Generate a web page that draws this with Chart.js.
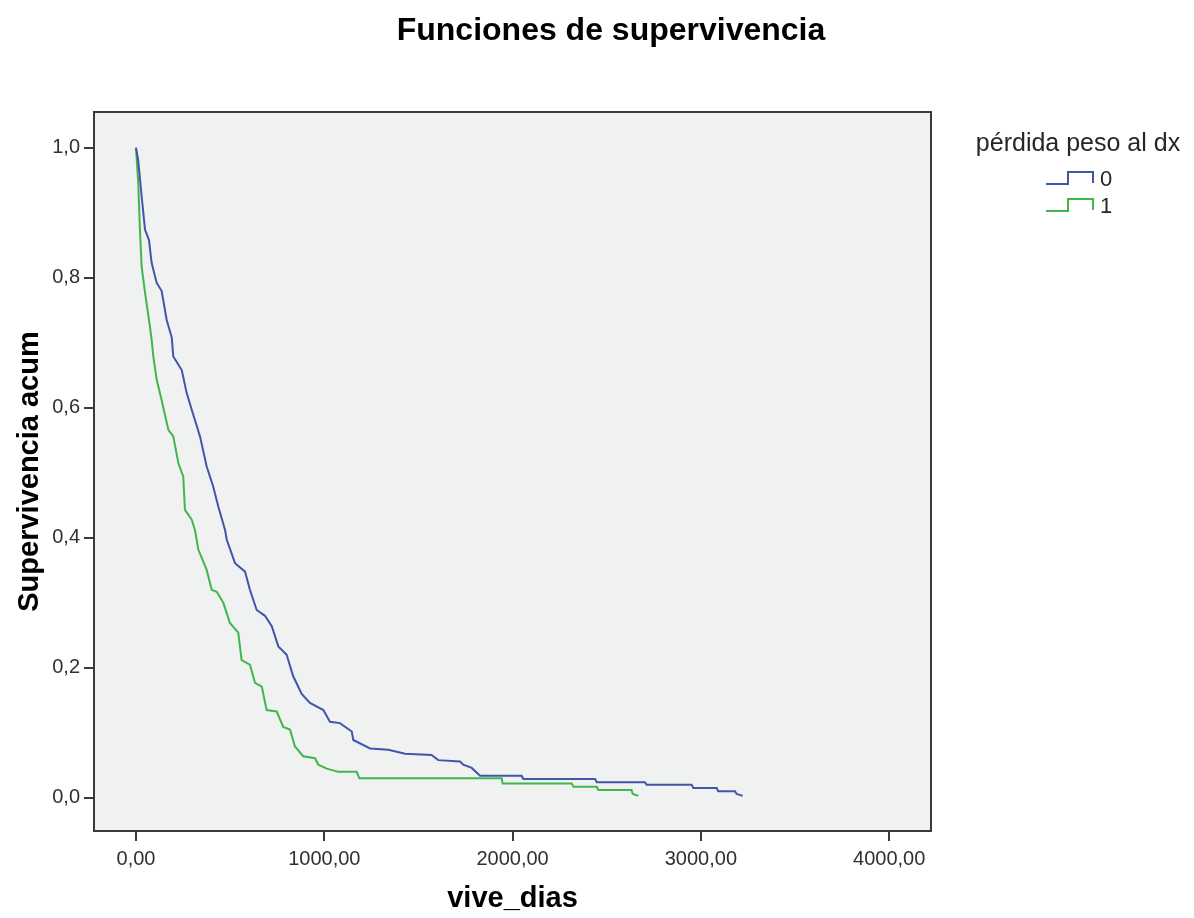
<!DOCTYPE html>
<html>
<head>
<meta charset="utf-8">
<script src="https://cdn.jsdelivr.net/npm/chart.js@4.4.1/dist/chart.umd.min.js"></script>
<style>
  html, body { margin: 0; padding: 0; background: #ffffff; }
  #wrap { width: 1194px; height: 918px; }
</style>
</head>
<body>
<div id="wrap"><canvas id="c" width="1194" height="918"></canvas></div>
<script>
// ---- Data ----
const chartTitle = "Funciones de supervivencia";
const xAxisTitle = "vive_dias";
const yAxisTitle = "Supervivencia acum";
const legendTitle = "pérdida peso al dx";
const seriesNames = ["0", "1"];
const xTicks = [0, 1000, 2000, 3000, 4000];
const yTicks = [0, 0.2, 0.4, 0.6, 0.8, 1.0];

// group 0 (blue): vertices of the survival curve (days, cumulative survival)
const timesGroup0 = [0, 12, 30, 48, 69, 83, 110, 136, 163, 190, 198, 243, 269, 296, 340, 375, 410, 437, 473, 482,
  526, 579, 605, 641, 685, 721, 756, 800, 835, 880, 924, 995, 1030, 1083, 1146, 1154, 1243, 1340, 1429, 1570,
  1605, 1721, 1738, 1783, 1827, 2048, 2057, 2438, 2447, 2703, 2712, 2951, 2960, 3084, 3092, 3181, 3190, 3222];
const survGroup0 = [1.0, 0.98, 0.925, 0.874, 0.858, 0.823, 0.792, 0.78, 0.735, 0.708, 0.679, 0.658, 0.623, 0.597, 0.556, 0.51, 0.479, 0.448, 0.412, 0.397,
  0.361, 0.348, 0.32, 0.289, 0.28, 0.264, 0.233, 0.22, 0.187, 0.16, 0.146, 0.135, 0.117, 0.115, 0.102, 0.089, 0.076, 0.074, 0.068, 0.066,
  0.058, 0.056, 0.051, 0.046, 0.034, 0.034, 0.029, 0.029, 0.024, 0.024, 0.02, 0.02, 0.015, 0.015, 0.01, 0.01, 0.006, 0.003];

// group 1 (green)
const timesGroup1 = [0, 12, 21, 30, 48, 74, 83, 92, 110, 136, 172, 198, 225, 251, 260, 296, 313, 331, 375, 402,
  429, 464, 499, 543, 561, 605, 632, 668, 694, 747, 782, 818, 844, 888, 951, 968, 1013, 1074, 1172, 1186,
  1942, 1947, 2314, 2323, 2447, 2455, 2632, 2638, 2668];
const survGroup1 = [1.0, 0.946, 0.874, 0.817, 0.777, 0.725, 0.705, 0.679, 0.643, 0.612, 0.566, 0.556, 0.515, 0.494, 0.443, 0.428, 0.412, 0.382, 0.351, 0.32,
  0.317, 0.30, 0.269, 0.254, 0.212, 0.205, 0.177, 0.171, 0.135, 0.133, 0.109, 0.105, 0.079, 0.064, 0.061, 0.051, 0.045, 0.04, 0.04, 0.03,
  0.03, 0.022, 0.022, 0.017, 0.017, 0.012, 0.012, 0.006, 0.003];

const colors = ["#4156a8", "#41b64c"];

function toPoints(ts, ss) { return ts.map((t, i) => ({ x: t, y: ss[i] })); }

const AREA = { left: 94, top: 112, right: 931, bottom: 831 };
const W = 1194, H = 918;
const FONT = '"Liberation Sans", Arial, sans-serif';

const decorPlugin = {
  id: 'decor',
  beforeDraw(chart) {
    const ctx = chart.ctx, ca = chart.chartArea;
    ctx.save();
    ctx.fillStyle = '#ffffff';
    ctx.fillRect(0, 0, W, H);
    ctx.fillStyle = '#f0f1f1';
    ctx.fillRect(ca.left, ca.top, ca.right - ca.left, ca.bottom - ca.top);
    ctx.restore();
  },
  afterDraw(chart) {
    const ctx = chart.ctx, ca = chart.chartArea;
    ctx.save();
    // frame
    ctx.strokeStyle = '#3a3a3a';
    ctx.lineWidth = 2;
    ctx.strokeRect(ca.left, ca.top, ca.right - ca.left, ca.bottom - ca.top);
    // title
    ctx.fillStyle = '#000000';
    ctx.font = 'bold 32px ' + FONT;
    ctx.textAlign = 'center';
    ctx.textBaseline = 'middle';
    ctx.fillText(chartTitle, 611, 31);
    // legend
    ctx.fillStyle = '#262626';
    ctx.font = '25px ' + FONT;
    ctx.fillText(legendTitle, 1078, 144);
    seriesNames.forEach((name, i) => {
      const y0 = 184 + i * 27;
      ctx.strokeStyle = colors[i];
      ctx.lineWidth = 2;
      ctx.beginPath();
      ctx.moveTo(1046, y0);
      ctx.lineTo(1068, y0);
      ctx.lineTo(1068, y0 - 12);
      ctx.lineTo(1093, y0 - 12);
      ctx.lineTo(1093, y0 - 1);
      ctx.stroke();
      ctx.fillStyle = '#262626';
      ctx.textAlign = 'left';
      ctx.font = '22px ' + FONT;
      ctx.fillText(name, 1100, y0 - 4);
    });
    ctx.restore();
  }
};

const fmtX = v => Number(v).toFixed(2).replace('.', ',');
const fmtY = v => Number(v).toFixed(1).replace('.', ',');

new Chart(document.getElementById('c'), {
  type: 'line',
  data: {
    datasets: [
      { label: seriesNames[0], data: toPoints(timesGroup0, survGroup0), borderColor: colors[0], backgroundColor: colors[0],
        borderWidth: 2, pointRadius: 0, tension: 0, fill: false },
      { label: seriesNames[1], data: toPoints(timesGroup1, survGroup1), borderColor: colors[1], backgroundColor: colors[1],
        borderWidth: 2, pointRadius: 0, tension: 0, fill: false }
    ]
  },
  options: {
    responsive: false,
    animation: false,
    layout: { padding: { left: 0, right: W - AREA.right, top: AREA.top, bottom: 0 } },
    plugins: { legend: { display: false }, title: { display: false }, tooltip: { enabled: false } },
    scales: {
      x: {
        type: 'linear', min: -223, max: 4222,
        afterBuildTicks: s => { s.ticks = xTicks.map(v => ({ value: v })); },
        afterFit: s => { s.height = H - AREA.bottom; },
        ticks: { callback: fmtX, color: '#303030', font: { size: 20, family: FONT }, padding: 6, maxRotation: 0, autoSkip: false },
        grid: { drawOnChartArea: false, drawTicks: true, tickLength: 10, color: '#3a3a3a', lineWidth: 2 },
        border: { display: false },
        title: { display: true, text: xAxisTitle, color: '#000', font: { size: 29, weight: 'bold', family: FONT }, padding: { top: 0, bottom: 2 } }
      },
      y: {
        type: 'linear', min: -0.051, max: 1.055,
        afterBuildTicks: s => { s.ticks = yTicks.map(v => ({ value: v })); },
        afterFit: s => { s.width = AREA.left; },
        ticks: { callback: fmtY, color: '#303030', font: { size: 20, family: FONT }, padding: 4, autoSkip: false },
        grid: { drawOnChartArea: false, drawTicks: true, tickLength: 10, color: '#3a3a3a', lineWidth: 2 },
        border: { display: false },
        title: { display: true, text: yAxisTitle, color: '#000', font: { size: 29, weight: 'bold', family: FONT }, padding: { top: 13, bottom: 0 } }
      }
    }
  },
  plugins: [decorPlugin]
});
</script>
</body>
</html>
